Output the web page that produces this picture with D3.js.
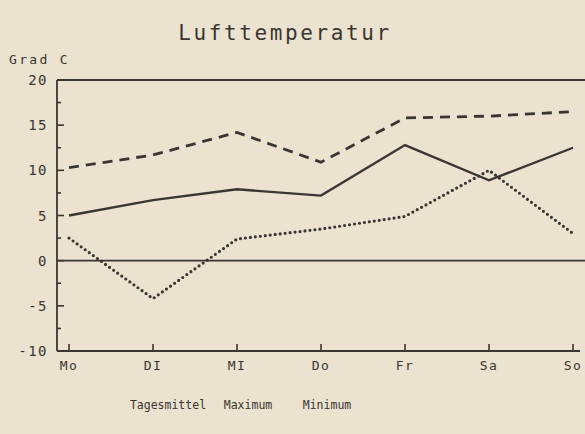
<!DOCTYPE html>
<meta charset="utf-8">
<style>
body { margin: 0; background: #ebe3cf; }
svg { display: block; }
text { font-family: "DejaVu Sans Mono", monospace; fill: #3a3631; }
.line { fill: none; stroke: #3a3631; }
</style>
<svg width="585" height="434"></svg>
<script src="https://d3js.org/d3.v7.min.js"></script>
<script>

var days = ["Mo", "Di", "Mi", "Do", "Fr", "Sa", "So"];
var dayLabels = ["Mo", "DI", "MI", "Do", "Fr", "Sa", "So"];
var tagesmittel = [5.0, 6.7, 7.9, 7.2, 12.8, 8.9, 12.5];
var maximum = [10.3, 11.7, 14.2, 10.9, 15.8, 16.0, 16.5];
var minimum = [2.5, -4.2, 2.4, 3.5, 4.9, 10.0, 3.0];
var yTicks = [20, 15, 10, 5, 0, -5, -10];
var legendNames = ["Tagesmittel", "Maximum", "Minimum"];

var svg = d3.select("svg"),
    width = +svg.attr("width"),
    height = +svg.attr("height");

var x = d3.scalePoint().domain(days).range([69, 573]);
var y = d3.scaleLinear().domain([-10, 20]).range([351, 80]);
var left = 57, right = 585;
var ink = "#3a3631";

// frame: left axis, top line, bottom line, zero line
svg.append("line").attr("x1", left).attr("x2", left).attr("y1", y(20)).attr("y2", y(-10))
    .attr("stroke", ink).attr("stroke-width", 1.8);
svg.append("line").attr("x1", left).attr("x2", right).attr("y1", y(20)).attr("y2", y(20))
    .attr("stroke", ink).attr("stroke-width", 1.8);
svg.append("line").attr("x1", left).attr("x2", 580).attr("y1", y(-10)).attr("y2", y(-10))
    .attr("stroke", ink).attr("stroke-width", 1.8);
svg.append("line").attr("x1", left).attr("x2", right).attr("y1", y(0)).attr("y2", y(0))
    .attr("stroke", ink).attr("stroke-width", 1.8);

// y ticks (major every 5, minor every 2.5)
var minor = d3.range(-10, 20.01, 2.5);
svg.append("g").selectAll("line").data(minor).enter().append("line")
    .attr("x1", left)
    .attr("x2", function(d) { return d % 5 === 0 ? left + 7 : left + 4; })
    .attr("y1", function(d) { return y(d); })
    .attr("y2", function(d) { return y(d); })
    .attr("stroke", ink).attr("stroke-width", 1.6);

svg.append("g").selectAll("text").data(yTicks).enter().append("text")
    .attr("x", 48)
    .attr("y", function(d) { return y(d) + 5; })
    .attr("text-anchor", "end")
    .attr("font-size", 14)
    .attr("letter-spacing", 1.5)
    .text(function(d) { return d; });

svg.append("text").attr("x", 9).attr("y", 64).attr("font-size", 13)
    .attr("letter-spacing", 2.3).text("Grad C");

// x ticks
svg.append("g").selectAll("line").data(days).enter().append("line")
    .attr("x1", function(d) { return x(d); })
    .attr("x2", function(d) { return x(d); })
    .attr("y1", y(-10))
    .attr("y2", y(-10) - 7)
    .attr("stroke", ink).attr("stroke-width", 1.6);

svg.append("g").selectAll("text").data(days).enter().append("text")
    .attr("x", function(d) { return x(d); })
    .attr("y", 370)
    .attr("text-anchor", "middle")
    .attr("font-size", 13)
    .attr("letter-spacing", 1.5)
    .text(function(d, i) { return dayLabels[i]; });

// lines
var line = d3.line()
    .x(function(d, i) { return x(days[i]); })
    .y(function(d) { return y(d); });

svg.append("path").datum(maximum).attr("class", "line")
    .attr("stroke-width", 2.8).attr("stroke-dasharray", "10,7").attr("d", line);
svg.append("path").datum(tagesmittel).attr("class", "line")
    .attr("stroke-width", 2.4).attr("d", line);
svg.append("path").datum(minimum).attr("class", "line")
    .attr("stroke-width", 3.2).attr("stroke-dasharray", "0,5").attr("stroke-linecap", "round")
    .attr("d", line);

// title
svg.append("text").attr("x", 285).attr("y", 40).attr("text-anchor", "middle")
    .attr("font-size", 21).attr("letter-spacing", 2.6).text("Lufttemperatur");

// legend (text only)
var lx = [168, 248, 327];
svg.append("g").selectAll("text").data(legendNames).enter().append("text")
    .attr("x", function(d, i) { return lx[i]; })
    .attr("y", 409)
    .attr("text-anchor", "middle")
    .attr("font-size", 11.5)
    .text(function(d) { return d; });

</script>
